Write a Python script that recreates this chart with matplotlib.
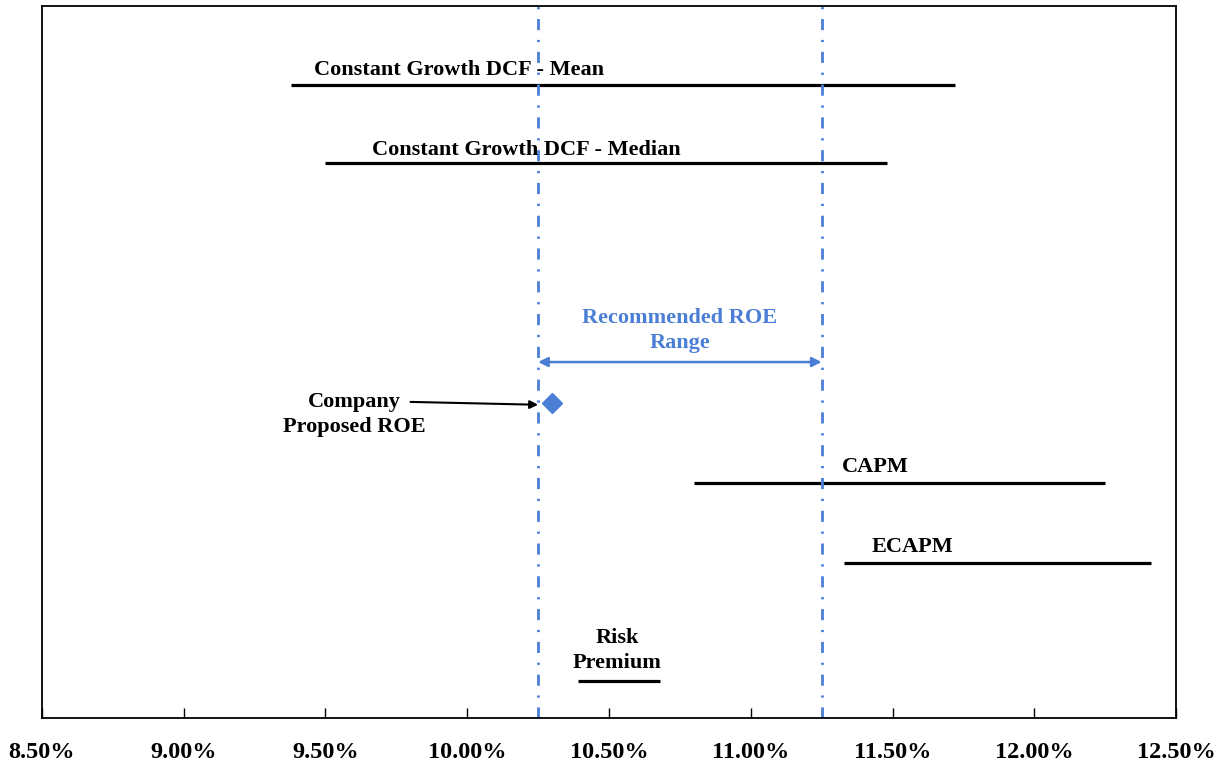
import numpy as np
import matplotlib.pyplot as plt
from matplotlib.ticker import FuncFormatter, MultipleLocator

plt.rcParams["font.family"] = ["Liberation Serif", "DejaVu Serif"]
plt.rcParams["font.weight"] = "bold"

# ROE ranges by method (percent)
methods = ["Constant Growth DCF - Mean", "Constant Growth DCF - Median",
           "CAPM", "ECAPM", "Risk\nPremium"]
low = [9.38, 9.50, 10.80, 11.33, 10.39]
high = [11.72, 11.48, 12.25, 12.41, 10.68]
row_y = [8.89, 7.79, 3.30, 2.18, 0.52]
label_xy = [(9.97, 9.10), (10.21, 7.98), (11.44, 3.53), (11.57, 2.40), (10.53, 0.95)]

rec_range = [10.25, 11.25]
range_y = 5.0
company_roe = 10.30
company_y = 4.42

blue = "#4a7fd5"

fig = plt.figure(figsize=(12.24, 7.63), dpi=100)
ax = fig.add_axes([0.0343, 0.059, 0.9265, 0.933])

for lo, hi, y in zip(low, high, row_y):
    ax.plot([lo, hi], [y, y], color="black", lw=2.3, solid_capstyle="butt")
for name, (tx, ty) in zip(methods, label_xy):
    ax.text(tx, ty, name, ha="center", va="center", fontsize=16,
            fontweight="bold", linespacing=1.3)

for xv in rec_range:
    ax.axvline(xv, color=blue, lw=2, ls=(0, (4, 3.5, 0.8, 3.5)))

ax.annotate("", xy=(rec_range[0], range_y), xytext=(rec_range[1], range_y),
            arrowprops=dict(arrowstyle="<|-|>", color=blue, lw=1.8,
                            mutation_scale=14, shrinkA=0, shrinkB=0))
ax.text(np.mean(rec_range), 5.44, "Recommended ROE\nRange", ha="center",
        va="center", color=blue, fontsize=16, fontweight="bold", linespacing=1.3)

ax.plot(company_roe, company_y, marker="D", color=blue, ms=10, ls="none")
ax.annotate("", xy=(10.25, 4.40), xytext=(9.80, 4.44),
            arrowprops=dict(arrowstyle="-|>", color="black", lw=1.5,
                            mutation_scale=12, shrinkA=0, shrinkB=0))
ax.text(9.60, 4.26, "Company\nProposed ROE", ha="center", va="center",
        fontsize=16, fontweight="bold", linespacing=1.3)

ax.set_xlim(8.5, 12.5)
ax.set_ylim(0, 10)
ax.xaxis.set_major_locator(MultipleLocator(0.5))
ax.xaxis.set_major_formatter(FuncFormatter(lambda v, _: f"{v:.2f}%"))
ax.tick_params(axis="x", direction="in", length=7, width=1, pad=17, labelsize=17.5)
ax.set_yticks([])
for sp in ax.spines.values():
    sp.set_linewidth(1.3)
for lbl in ax.get_xticklabels():
    lbl.set_fontweight("bold")

fig.savefig("out.png", dpi=100)
